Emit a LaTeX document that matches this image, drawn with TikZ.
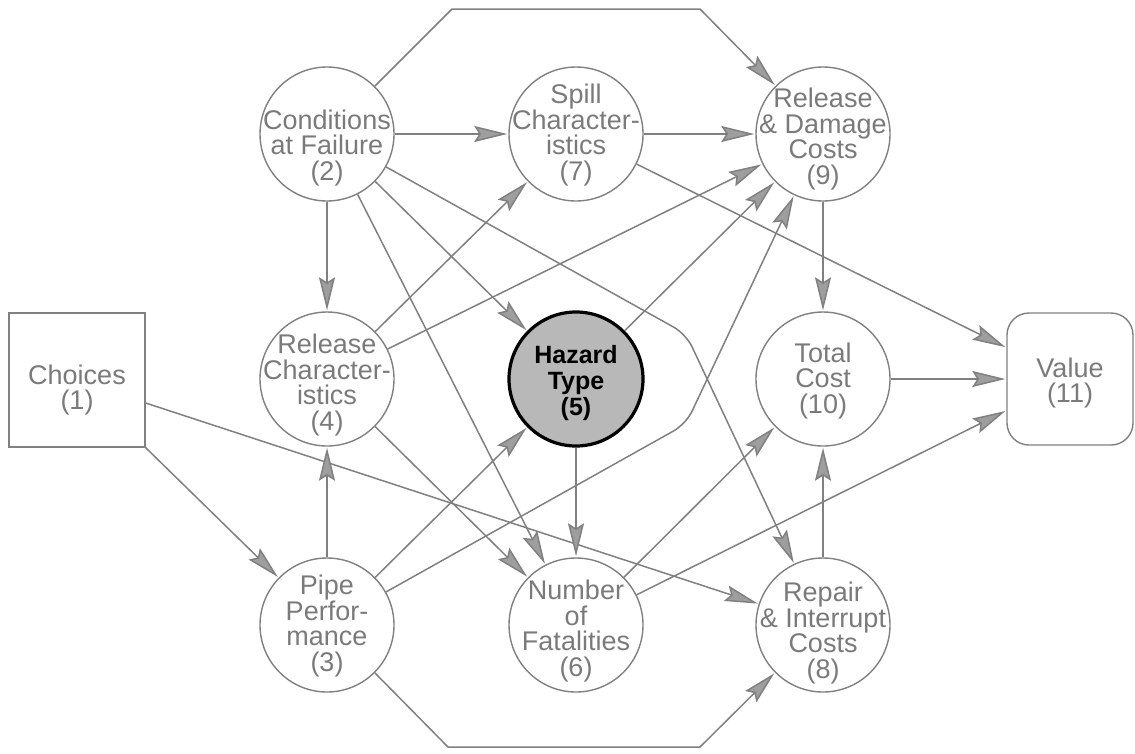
\documentclass[tikz,border=0pt]{standalone}
\usepackage{fontspec}
\setmainfont{Liberation Sans}
\usetikzlibrary{arrows.meta,calc}
\definecolor{lgray}{gray}{0.5}
\definecolor{tgray}{gray}{0.48}
\definecolor{agray}{gray}{0.62}
\definecolor{hfill}{gray}{0.72}
\begin{document}
\begin{tikzpicture}[x=1pt,y=-1pt,
  cnode/.style={circle, draw=lgray, line width=1.4pt, minimum size=134pt, inner sep=0pt},
  lbl/.style={align=center, text=tgray, font=\fontsize{27}{25.8}\selectfont, inner sep=0pt},
  hlbl/.style={align=center, text=black, font=\fontsize{25}{26}\selectfont\bfseries, inner sep=0pt},
  edge/.style={draw=lgray, line width=1.5pt, -{Stealth[length=33pt,width=16pt,inset=5pt,fill=agray]}, shorten >=1pt},
]
\useasboundingbox (0,0) rectangle (1135,753);

% nodes
\node[rectangle, draw=lgray, line width=1.4pt, minimum width=136pt, minimum height=134pt, inner sep=0pt,
  label={[lbl,yshift=-10pt]center:Choices\\(1)}] (n1) at (77,380) {};
\node[cnode, label={[lbl,yshift=-14pt]center:Conditions\\at Failure\\(2)}] (n2) at (327,134) {};
\node[cnode, label={[lbl,yshift=-1pt]center:Spill\\Character-\\istics\\(7)}] (n7) at (576,134) {};
\node[cnode, label={[lbl,yshift=-5pt]center:Release\\\& Damage\\Costs\\(9)}] (n9) at (823,134) {};
\node[cnode, label={[lbl,yshift=-6pt]center:Release\\Character-\\istics\\(4)}] (n4) at (327,379) {};
\node[circle, draw=black, line width=3.2pt, fill=hfill, minimum size=134pt, inner sep=0pt,
  label={[hlbl,yshift=-4pt]center:Hazard\\Type\\(5)}] (n5) at (576,379) {};
\node[cnode, label={[lbl,yshift=-2pt]center:Total\\Cost\\(10)}] (n10) at (823,379) {};
\node[rectangle, rounded corners=22pt, draw=lgray, line width=1.4pt, minimum width=126pt, minimum height=132pt, inner sep=0pt,
  label={[lbl,yshift=-4pt]center:Value\\(11)}] (n11) at (1070,379) {};
\node[cnode, label={[lbl,yshift=-1pt]center:Pipe\\Perfor-\\mance\\(3)}] (n3) at (327,625) {};
\node[cnode, label={[lbl,yshift=-6pt]center:Number\\of\\Fatalities\\(6)}] (n6) at (576,625) {};
\node[cnode, label={[lbl,yshift=-8pt]center:Repair\\\& Interrupt\\Costs\\(8)}] (n8) at (823,625) {};

% bend points
\coordinate (t1) at (452,9);
\coordinate (t2) at (700,9);
\coordinate (b1) at (448,747);
\coordinate (b2) at (700,747);
\coordinate (k1) at (686,334);
\coordinate (k2) at (686,424);

% edges
\draw[edge] (n1.south east) -- (n3);
\draw[edge] ($(n1.east)+(0,23)$) -- (n8);
\draw[edge] (n2) -- (n7);
\draw[edge] (n2) -- (n4);
\draw[edge] (n2) -- (n5);
\draw[edge] (n2) -- (n6);
\draw[edge, rounded corners=14pt] (n2) -- (k1) -- (n8);
\draw[edge] (n2.45) -- (t1) -- (t2) -- (n9);
\draw[edge] (n3) -- (n4);
\draw[edge] (n3) -- (n5);
\draw[edge, rounded corners=14pt] (n3) -- (k2) -- (n9);
\draw[edge] (n3.-45) -- (b1) -- (b2) -- (n8);
\draw[edge] (n4) -- (n7);
\draw[edge] (n4) -- (n9);
\draw[edge] (n4) -- (n6);
\draw[edge] (n5) -- (n9);
\draw[edge] (n5) -- (n6);
\draw[edge] (n7) -- (n9);
\draw[edge] (n7) -- (n11);
\draw[edge] (n9) -- (n10);
\draw[edge] (n10) -- (n11);
\draw[edge] (n8) -- (n10);
\draw[edge] (n6) -- (n10);
\draw[edge] (n6) -- (n11);
\end{tikzpicture}
\end{document}
